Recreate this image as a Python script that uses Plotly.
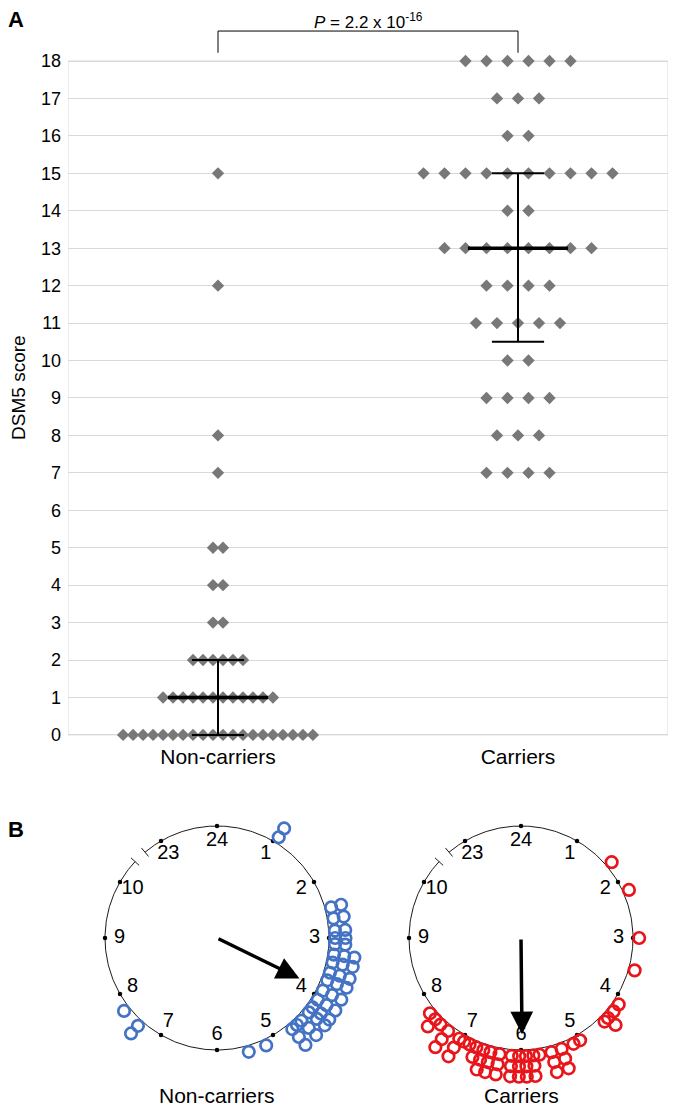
import numpy as np
import plotly.graph_objects as go

# ---------------- Panel A data ----------------
scores = list(range(0, 19))
noncarrier_counts = [20, 12, 6, 2, 2, 2, 0, 1, 1, 0, 0, 0, 1, 0, 0, 1, 0, 0, 0]
carrier_counts = [0, 0, 0, 0, 0, 0, 0, 4, 3, 4, 2, 5, 4, 8, 2, 10, 2, 3, 6]
groups = ["Non-carriers", "Carriers"]
medians = [1, 13]
q1 = [0, 10.5]
q3 = [2, 15]
p_label = "<i>P</i> = 2.2 x 10<sup>-16</sup>"

# ---------------- Panel B data (hours, 24 = midnight) ----------------
hour_labels = [23, 24, 1, 2, 3, 4, 5, 6, 7, 8, 9, 10]
noncarrier_times = [1.05, 1.05, 2.5, 2.5, 2.68, 2.68, 2.88, 2.88, 3.0, 3.0, 3.1, 3.1,
                    3.27, 3.27, 3.27, 3.4, 3.4, 3.4, 3.57, 3.57, 3.57, 3.7, 3.7, 3.7,
                    3.88, 3.88, 3.88, 4.05, 4.05, 4.05, 4.2, 4.2, 4.2, 4.3, 4.3, 4.3,
                    4.48, 4.48, 4.48, 4.58, 4.68, 4.68, 4.68, 5.18, 5.48, 7.4, 7.4, 7.73]
carrier_times = [1.67, 2.2, 3.0, 3.53, 4.14, 4.28, 4.42, 4.42, 4.5, 5.0, 5.12,
                 5.33, 5.33, 5.33, 5.5, 5.5, 5.5, 5.7, 5.8, 5.8, 5.8, 5.92, 5.92, 5.92,
                 6.03, 6.03, 6.03, 6.15, 6.15, 6.15, 6.35, 6.35, 6.35, 6.5, 6.5, 6.5,
                 6.62, 6.62, 6.62, 6.74, 6.74, 6.86, 6.96, 7.05, 7.05, 7.05,
                 7.27, 7.27, 7.27, 7.43, 7.55, 7.55, 7.68]
mean_hours = [3.87, 5.98]
mean_lengths = [0.82, 0.86]

FONT = "Liberation Sans, Arial, Helvetica, sans-serif"
OFF = 8                      # page body margin
FW, FH = 677 - 2 * OFF, 1115 - 2 * OFF
DIAMOND = "#787878"
BLUE = "#4472C4"
RED = "#E8151B"
GRID = "#d9d9d9"


def px_x(X):
    return (X - OFF) / FW


def px_y(Y):
    return 1 - (Y - OFF) / FH


fig = go.Figure()

# ---------- Panel A: diamonds ----------
spacing = [0.0333, 0.07]
for gi, counts in enumerate([noncarrier_counts, carrier_counts]):
    xs, ys = [], []
    for s, n in zip(scores, counts):
        for i in range(n):
            xs.append(gi + (i - (n - 1) / 2) * spacing[gi])
            ys.append(s)
    fig.add_trace(go.Scatter(x=xs, y=ys, mode="markers", xaxis="x", yaxis="y",
                             marker=dict(symbol="diamond", size=9.5, color=DIAMOND,
                                         line=dict(width=0)),
                             cliponaxis=False, showlegend=False, hoverinfo="skip"))

# error bars (median + IQR)
for gi in range(2):
    cap = 0.087
    med = 0.167
    fig.add_trace(go.Scatter(
        x=[gi, gi, None, gi - cap, gi + cap, None, gi - cap, gi + cap],
        y=[q1[gi], q3[gi], None, q3[gi], q3[gi], None, q1[gi], q1[gi]],
        mode="lines", line=dict(color="black", width=2), xaxis="x", yaxis="y",
        showlegend=False, hoverinfo="skip"))
    fig.add_trace(go.Scatter(
        x=[gi - med, gi + med], y=[medians[gi], medians[gi]],
        mode="lines", line=dict(color="black", width=3.5), xaxis="x", yaxis="y",
        showlegend=False, hoverinfo="skip"))

# ---------- Panel B: clocks ----------
R0, STEP = 1.055, 0.092


def hour_angle(h):
    h = h % 24
    if h > 12:
        h -= 24
    return np.deg2rad(h * 30.0)


def stacked_xy(times):
    xs, ys = [], []
    seen = {}
    for t in times:
        k = seen.get(t, 0)
        seen[t] = k + 1
        a = hour_angle(t)
        r = R0 + STEP * k
        xs.append(r * np.sin(a))
        ys.append(r * np.cos(a))
    return xs, ys


clock_axes = [("x2", "y2"), ("x3", "y3")]
clock_centers = [217, 521]
colors = [BLUE, RED]
for ci, times in enumerate([noncarrier_times, carrier_times]):
    xa, ya = clock_axes[ci]
    th = np.deg2rad(np.linspace(-40, 313, 400))
    fig.add_trace(go.Scatter(x=np.sin(th), y=np.cos(th), mode="lines",
                             line=dict(color="black", width=0.9), xaxis=xa, yaxis=ya,
                             showlegend=False, hoverinfo="skip"))
    bx, by = [], []
    for d in (-40, -47):
        a = np.deg2rad(d)
        bx += [0.95 * np.sin(a), 1.05 * np.sin(a), None]
        by += [0.95 * np.cos(a), 1.05 * np.cos(a), None]
    fig.add_trace(go.Scatter(x=bx, y=by, mode="lines", line=dict(color="black", width=0.9),
                             xaxis=xa, yaxis=ya, showlegend=False, hoverinfo="skip"))
    angs = np.array([hour_angle(h) for h in hour_labels])
    fig.add_trace(go.Scatter(x=np.sin(angs), y=np.cos(angs), mode="markers",
                             marker=dict(size=4.5, color="black"), xaxis=xa, yaxis=ya,
                             showlegend=False, hoverinfo="skip"))
    fig.add_trace(go.Scatter(x=0.87 * np.sin(angs), y=0.87 * np.cos(angs), mode="text",
                             text=[str(h) for h in hour_labels],
                             textfont=dict(size=20, color="black", family=FONT),
                             textposition="middle center", xaxis=xa, yaxis=ya,
                             showlegend=False, hoverinfo="skip"))
    px, py = stacked_xy(times)
    fig.add_trace(go.Scatter(x=px, y=py, mode="markers", xaxis=xa, yaxis=ya,
                             marker=dict(symbol="circle-open", size=11.5, color=colors[ci],
                                         line=dict(width=2.7, color=colors[ci])),
                             cliponaxis=False, showlegend=False, hoverinfo="skip"))

annotations = []
for ci in range(2):
    xa, ya = clock_axes[ci]
    a = hour_angle(mean_hours[ci])
    L = mean_lengths[ci]
    annotations.append(dict(x=L * np.sin(a), y=L * np.cos(a), xref=xa, yref=ya,
                            ax=0, ay=0, axref=xa, ayref=ya, showarrow=True,
                            arrowhead=2, arrowsize=1.3, arrowwidth=3.5, arrowcolor="black",
                            text=""))
    annotations.append(dict(x=px_x(clock_centers[ci]), y=px_y(1095), xref="paper", yref="paper",
                            xanchor="center", yanchor="middle",
                            showarrow=False, text=groups[ci],
                            font=dict(size=21, color="black", family=FONT)))

annotations.append(dict(x=px_x(368), y=px_y(21), xref="paper", yref="paper", showarrow=False,
                        xanchor="center", yanchor="middle",
                        text=p_label, font=dict(size=17, color="black", family=FONT)))
annotations.append(dict(x=px_x(16), y=px_y(20), xref="paper", yref="paper", showarrow=False,
                        xanchor="center", yanchor="middle",
                        text="<b>A</b>", font=dict(size=22, color="black", family=FONT)))
annotations.append(dict(x=px_x(16), y=px_y(829), xref="paper", yref="paper", showarrow=False,
                        xanchor="center", yanchor="middle",
                        text="<b>B</b>", font=dict(size=22, color="black", family=FONT)))

shapes = [
    dict(type="rect", xref="x", yref="y", x0=-0.5, x1=1.5, y0=0, y1=18,
         line=dict(color=GRID, width=1), layer="below"),
    dict(type="path", xref="x", yref="y", path="M 0,18.22 L 0,18.8 L 1,18.8 L 1,18.22",
         line=dict(color="black", width=1)),
]

HALF = 140
clock_range = [-HALF / 112, HALF / 112]
fig.update_layout(
    width=FW, height=FH, margin=dict(l=0, r=0, t=0, b=0),
    paper_bgcolor="white", plot_bgcolor="white",
    font=dict(family=FONT, color="black"),
    showlegend=False,
    xaxis=dict(domain=[px_x(68), px_x(668)], range=[-0.5, 1.5], tickmode="array",
               tickvals=[0, 1], ticktext=groups, showgrid=False, zeroline=False,
               showline=False, ticks="", tickfont=dict(size=21), automargin=False,
               ticklabelstandoff=-6),
    yaxis=dict(domain=[px_y(748), px_y(27.3)], range=[-0.35, 18.9], tickmode="array",
               tickvals=scores, showgrid=True, gridcolor=GRID, gridwidth=1, zeroline=False,
               showline=False, ticks="", tickfont=dict(size=18), automargin=False,
               ticklabelstandoff=6,
               title=dict(text="DSM5 score", font=dict(size=19), standoff=10)),
    xaxis2=dict(domain=[px_x(clock_centers[0] - HALF), px_x(clock_centers[0] + HALF)],
                range=clock_range, visible=False),
    yaxis2=dict(domain=[px_y(938 + HALF), px_y(938 - HALF)], range=clock_range, visible=False),
    xaxis3=dict(domain=[px_x(clock_centers[1] - HALF), px_x(clock_centers[1] + HALF)],
                range=clock_range, visible=False),
    yaxis3=dict(domain=[px_y(938 + HALF), px_y(938 - HALF)], range=clock_range, visible=False),
    annotations=annotations, shapes=shapes,
)

fig.write_html("out.html")
